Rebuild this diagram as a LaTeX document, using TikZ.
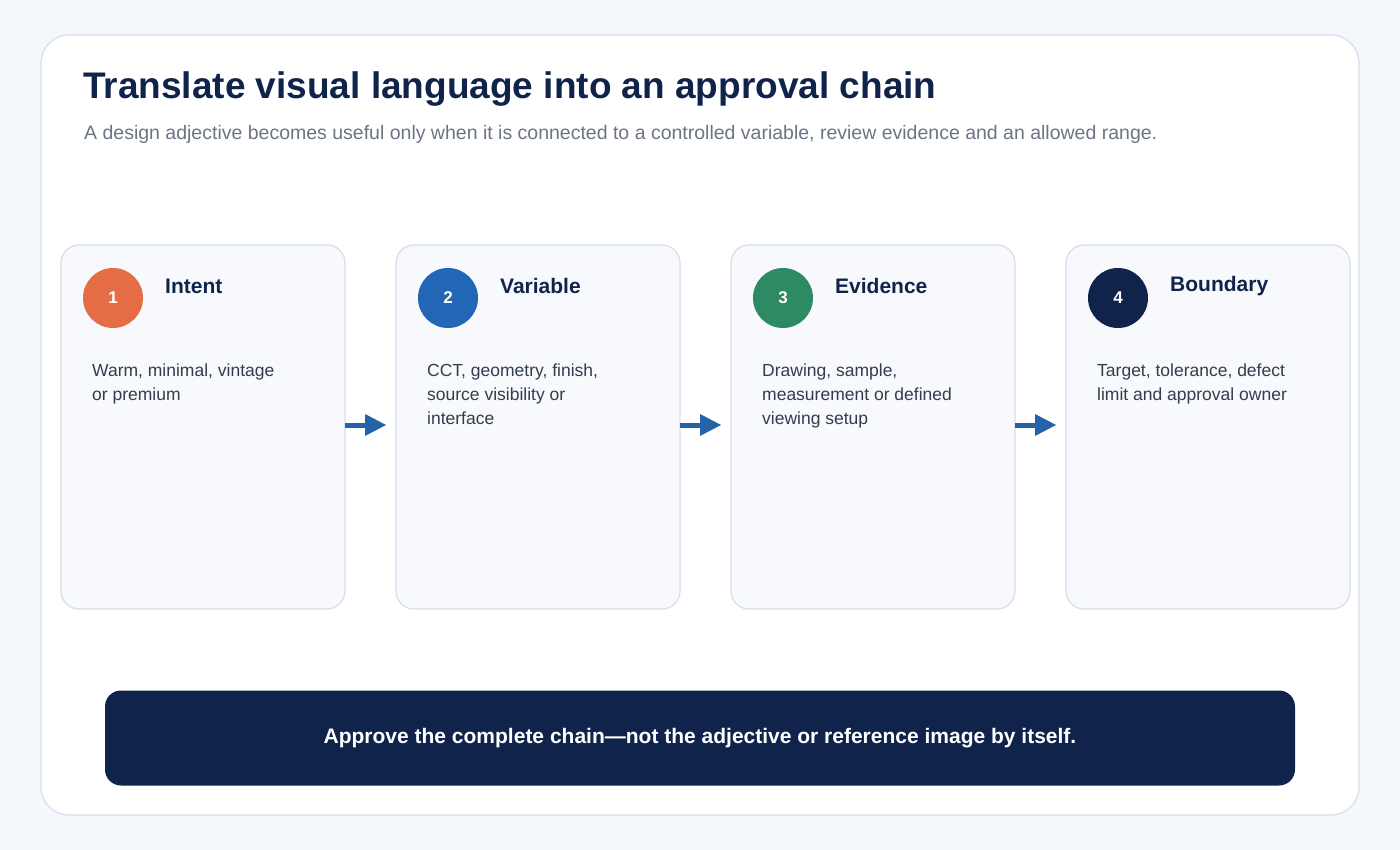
\documentclass[tikz,border=0pt]{standalone}
\usepackage{fontspec}
\setmainfont{Liberation Sans}
\usetikzlibrary{calc}
\begin{document}
\begin{tikzpicture}[x=1pt,y=-1pt,
  card/.style={draw=cardline,fill=cardbg,line width=1.2pt,rounded corners=18pt},
  num/.style={circle,minimum size=60pt,inner sep=0pt,text=white,font=\fontsize{17}{20}\selectfont\bfseries},
  ctitle/.style={anchor=west,text=navy,font=\fontsize{21}{25}\selectfont\bfseries},
  body/.style={anchor=north west,align=left,text=bodytxt,inner sep=0pt,font=\fontsize{17.5}{24}\selectfont},
  arr/.style={draw=arrblue,line width=5pt}]
\definecolor{pagebg}{HTML}{F4F7FB}
\definecolor{cardbg}{HTML}{F7F9FC}
\definecolor{cardline}{HTML}{D5DEEA}
\definecolor{navy}{HTML}{10244B}
\definecolor{bodytxt}{HTML}{333D4D}
\definecolor{subgray}{HTML}{6B7585}
\definecolor{arrblue}{HTML}{2563A8}
\definecolor{cA}{HTML}{E56D45}
\definecolor{cB}{HTML}{2167B5}
\definecolor{cC}{HTML}{2E8A63}
\definecolor{cD}{HTML}{10244B}
\fill[pagebg] (0,0) rectangle (1400,850);
\useasboundingbox (0,0) rectangle (1400,850);
\draw[fill=white,draw=cardline,line width=1.2pt,rounded corners=28pt] (41,35) rectangle (1359,815);
\node[anchor=west,text=navy,font=\fontsize{37}{44}\selectfont\bfseries,inner sep=0pt] (title) at (83,89) {Translate visual language into an approval chain};
\node[anchor=west,text=subgray,font=\fontsize{19.5}{24}\selectfont,inner sep=0pt] (sub) at (84,134) {A design adjective becomes useful only when it is connected to a controlled variable, review evidence and an allowed range.};
\foreach \i/\x/\c/\t/\b in {1/61/cA/Intent/{Warm, minimal, vintage\\or premium},
  2/396/cB/Variable/{CCT, geometry, finish,\\source visibility or\\interface},
  3/731/cC/Evidence/{Drawing, sample,\\measurement or defined\\viewing setup},
  4/1066/cD/Boundary/{Target, tolerance, defect\\limit and approval owner}}{
  \draw[card] (\x,245) rectangle ++(284,364);
  \coordinate (L\i) at (\x,425);
  \coordinate (R\i) at ({\x+284},425);
  \node[num,fill=\c] (n\i) at ({\x+52},298) {\i};
  \node[ctitle,inner sep=0pt] (t\i) at ({\x+104},286) {\t};
  \node[body] (b\i) at ({\x+31},364) {\b};
}
\foreach \a in {1,2,3}{
  \draw[arr] (R\a) -- ++(22,0);
  \fill[arrblue] ($(R\a)+(20,-11)$) -- ($(R\a)+(41,0)$) -- ($(R\a)+(20,11)$) -- cycle;
}
\node[fill=navy,rounded corners=16pt,minimum width=1190pt,minimum height=95pt,text=white,font=\fontsize{21}{25}\selectfont\bfseries] (banner) at (700,738) {Approve the complete chain---not the adjective or reference image by itself.};
\end{tikzpicture}
\end{document}
